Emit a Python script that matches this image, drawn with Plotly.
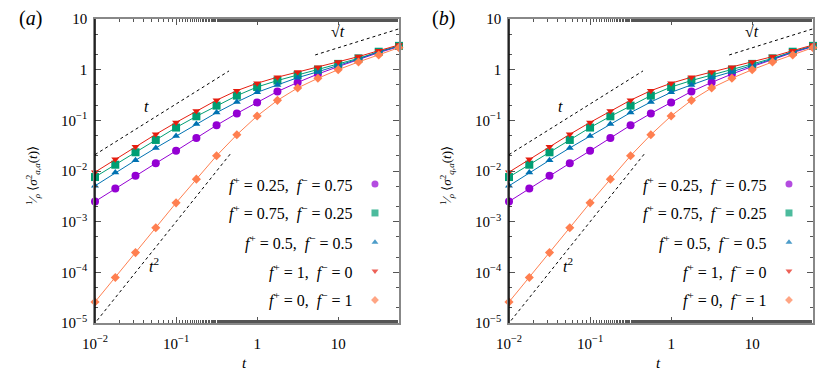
import plotly.graph_objects as go

# ---------------- data ----------------
t = [0.01, 0.0178, 0.0316, 0.0562, 0.1, 0.178, 0.316, 0.562,
     1.0, 1.78, 3.16, 5.62, 10.0, 17.8, 31.6, 56.2]

s_025_075 = [0.0025, 0.0045, 0.0081, 0.0142, 0.025, 0.045, 0.080, 0.137,
             0.226, 0.37, 0.56, 0.82, 1.15, 1.6, 2.17, 2.85]
s_075_025 = [0.0076, 0.0133, 0.0234, 0.041, 0.072, 0.12, 0.195, 0.307,
             0.455, 0.61, 0.785, 1.0, 1.3, 1.67, 2.26, 2.95]
s_05_05 = [0.0051, 0.0093, 0.0163, 0.0285, 0.049, 0.085, 0.142, 0.23,
           0.357, 0.50, 0.695, 0.91, 1.22, 1.62, 2.26, 2.9]
s_1_0 = [0.0095, 0.017, 0.030, 0.053, 0.091, 0.153, 0.25, 0.385,
         0.54, 0.71, 0.90, 1.11, 1.42, 1.81, 2.37, 3.07]
s_0_1 = [2.6e-5, 7.9e-5, 2.45e-4, 7.6e-4, 2.35e-3, 6.9e-3, 0.020, 0.052,
         0.122, 0.248, 0.436, 0.676, 1.0, 1.42, 1.95, 2.72]

series_names = ["<i>f</i><sup>+</sup> = 0.25,  <i>f</i><sup>−</sup> = 0.75",
                "<i>f</i><sup>+</sup> = 0.75,  <i>f</i><sup>−</sup> = 0.25",
                "<i>f</i><sup>+</sup> = 0.5,  <i>f</i><sup>−</sup> = 0.5",
                "<i>f</i><sup>+</sup> = 1,  <i>f</i><sup>−</sup> = 0",
                "<i>f</i><sup>+</sup> = 0,  <i>f</i><sup>−</sup> = 1"]
series_vals = [s_025_075, s_075_025, s_05_05, s_1_0, s_0_1]

# guide lines (power laws)
guide_t_x, guide_t_y = [0.01, 0.45], [0.021, 0.945]
guide_t2_x, guide_t2_y = [0.0106, 0.47], [1.12e-5, 0.022]
guide_sqrt_x, guide_sqrt_y = [5.2, 58.0], [1.95, 6.5]

x_tickvals = [0.01, 0.1, 1, 10]
x_ticktext = ["10<sup>−2</sup>", "10<sup>−1</sup>", "1", "10"]
y_tickvals = [1e-5, 1e-4, 1e-3, 1e-2, 1e-1, 1, 10]
y_ticktext = ["10<sup>−5</sup>", "10<sup>−4</sup>", "10<sup>−3</sup>",
              "10<sup>−2</sup>", "10<sup>−1</sup>", "1", "10"]

# ---------------- styles ----------------
colors = ["#9400D3", "#009E73", "#0072B2", "#E51E10", "#FF7F50"]
symbols = ["circle", "square", "triangle-up", "triangle-down", "diamond"]
msizes = [8, 8, 7, 7, 7]
leg_sizes = [7, 7, 6, 6, 6]
FONT = "Liberation Serif"

# page body has an 8px margin: figure is placed at (8, 8) in the window
OFF = 8
VW, VH = 831, 376
W, H = VW - OFF, VH - OFF


def px(xp):
    return (xp - OFF) / W


def py(yp):
    return (VH - yp) / H


fig = go.Figure()

panels = [
    dict(xd=[px(95), px(399)], xa="x", ya="y", ox="x3", oy="y3",
         tag="(<i>a</i>)", tagx=px(30), ylab_x=px(33), xlab_x=px(244),
         sub="<i>a,a</i>"),
    dict(xd=[px(509), px(813)], xa="x2", ya="y2", ox="x4", oy="y4",
         tag="(<i>b</i>)", tagx=px(444), ylab_x=px(447), xlab_x=px(658),
         sub="<i>q,a</i>"),
]
ydom = [py(323), py(19)]

leg_rows = [0.457, 0.362, 0.266, 0.171, 0.0757]
leg_text_x = 0.855
leg_mark_x = 0.921

annotations = []
shapes = []
for pi, p in enumerate(panels):
    # guide lines
    for gx, gy in [(guide_t_x, guide_t_y), (guide_t2_x, guide_t2_y),
                   (guide_sqrt_x, guide_sqrt_y)]:
        fig.add_trace(go.Scatter(x=gx, y=gy, mode="lines", xaxis=p["xa"], yaxis=p["ya"],
                                 line=dict(color="black", width=1, dash="3px,3px"),
                                 showlegend=False, hoverinfo="skip"))
    # data series
    for i, (nm, vals) in enumerate(zip(series_names, series_vals)):
        fig.add_trace(go.Scatter(x=t, y=vals, mode="lines+markers",
                                 xaxis=p["xa"], yaxis=p["ya"], name=nm,
                                 line=dict(color=colors[i], width=1),
                                 marker=dict(symbol=symbols[i], size=msizes[i],
                                             color=colors[i], line=dict(width=0)),
                                 cliponaxis=False, showlegend=False))
    # legend keys (overlay axes)
    fig.add_trace(go.Scatter(x=[leg_mark_x] * 5, y=leg_rows, mode="markers",
                             xaxis=p["ox"], yaxis=p["oy"],
                             marker=dict(symbol=symbols, size=leg_sizes, color=colors,
                                         line=dict(width=0)),
                             showlegend=False, hoverinfo="skip", cliponaxis=False))
    dref_x = p["xa"] + " domain"
    dref_y = p["ya"] + " domain"
    for i, nm in enumerate(series_names):
        annotations.append(dict(text=nm, x=leg_text_x, y=leg_rows[i], xref=dref_x, yref=dref_y,
                                xanchor="right", yanchor="middle", showarrow=False,
                                font=dict(family=FONT, size=16, color="black")))
    # guide labels
    annotations.append(dict(text="<i>t</i>", x=-1.36, y=-0.73, xref=p["xa"], yref=p["ya"],
                            showarrow=False, font=dict(family=FONT, size=16)))
    annotations.append(dict(text="<i>t</i><sup>2</sup>", x=-1.27, y=-3.86, xref=p["xa"],
                            yref=p["ya"], showarrow=False, font=dict(family=FONT, size=16)))
    annotations.append(dict(text="√<i>t</i>", x=1.0, y=0.75, xref=p["xa"], yref=p["ya"],
                            showarrow=False, font=dict(family=FONT, size=16)))
    # panel tag
    annotations.append(dict(text=p["tag"], x=p["tagx"], y=py(19), xref="paper",
                            yref="paper", showarrow=False, xanchor="center", yanchor="middle",
                            font=dict(family=FONT, size=20)))
    # axis titles
    annotations.append(dict(text="<sup>1</sup>⁄<sub><i>ρ</i></sub> ⟨<i>σ</i><sup>2</sup><sub>"
                            + p["sub"] + "</sub>(<i>t</i>)⟩",
                            x=p["ylab_x"], y=py(176), xref="paper", yref="paper",
                            textangle=-90, showarrow=False, xanchor="center", yanchor="middle",
                            font=dict(family=FONT, size=13)))
    annotations.append(dict(text="<i>t</i>", x=p["xlab_x"], y=py(363), xref="paper",
                            yref="paper", showarrow=False, xanchor="center", yanchor="middle",
                            font=dict(family=FONT, size=15)))
    # dark left spine
    shapes.append(dict(type="line", xref=dref_x, yref=dref_y, x0=0, x1=0, y0=0, y1=1,
                       line=dict(color="black", width=1.5), layer="above"))

xcommon = dict(type="log", range=[-2, 1.75], tickvals=x_tickvals, ticktext=x_ticktext,
               ticks="inside", ticklen=6, tickcolor="#555", showline=True, linecolor="#888",
               linewidth=1.5, mirror="ticks", showgrid=False, zeroline=False, automargin=False,
               ticklabelstandoff=6,
               tickfont=dict(family=FONT, size=15, color="black"),
               minor=dict(ticks="inside", ticklen=3, tickcolor="#555", showgrid=False))
ycommon = dict(type="log", range=[-5, 1], tickvals=y_tickvals, ticktext=y_ticktext,
               ticks="inside", ticklen=6, tickcolor="#555", showline=True, linecolor="#888",
               linewidth=1.5, mirror="ticks", showgrid=False, zeroline=False, automargin=False,
               ticklabelstandoff=3,
               tickfont=dict(family=FONT, size=15, color="black"),
               minor=dict(ticks="inside", ticklen=3, tickcolor="#555", showgrid=False))
overlay = dict(range=[0, 1], visible=False, fixedrange=True, automargin=False)

fig.update_layout(
    width=W, height=H, margin=dict(l=0, r=0, t=0, b=0, autoexpand=False),
    paper_bgcolor="white", plot_bgcolor="rgba(0,0,0,0)", showlegend=False,
    xaxis=dict(domain=panels[0]["xd"], anchor="y", **xcommon),
    yaxis=dict(domain=ydom, anchor="x", **ycommon),
    xaxis2=dict(domain=panels[1]["xd"], anchor="y2", **xcommon),
    yaxis2=dict(domain=ydom, anchor="x2", **ycommon),
    xaxis3=dict(domain=panels[0]["xd"], anchor="y3", overlaying="x", **overlay),
    yaxis3=dict(domain=ydom, anchor="x3", overlaying="y", **overlay),
    xaxis4=dict(domain=panels[1]["xd"], anchor="y4", overlaying="x2", **overlay),
    yaxis4=dict(domain=ydom, anchor="x4", overlaying="y2", **overlay),
    annotations=annotations, shapes=shapes,
    font=dict(family=FONT, color="black"),
)

fig.write_html("out.html")
